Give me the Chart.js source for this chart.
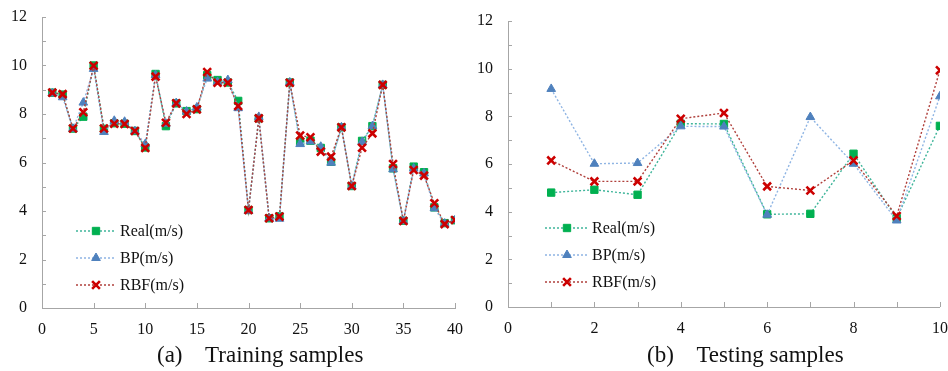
<!DOCTYPE html>
<html>
<head>
<meta charset="utf-8">
<script src="https://cdn.jsdelivr.net/npm/chart.js@4/dist/chart.umd.min.js"></script>
<style>
  body { margin: 0; background: #fff; }
  #wrap { position: relative; width: 948px; height: 371px; overflow: hidden; }
  canvas { position: absolute; top: 0; }
  .cap { position: absolute; top: 343px; font-family: "Liberation Serif", serif; font-size: 23px; line-height: 23px; color: #111; white-space: pre; }
</style>
</head>
<body>
<div id="wrap">
  <canvas id="train" width="474" height="371" style="left:0"></canvas>
  <canvas id="test" width="474" height="371" style="left:474px"></canvas>
  <div class="cap" style="left:157px">(a)    Training samples</div>
  <div class="cap" style="left:647px">(b)    Testing samples</div>
</div>
<script>
// training samples (a)
const trainIdx = [1, 2, 3, 4, 5, 6, 7, 8, 9, 10, 11, 12, 13, 14, 15, 16, 17, 18, 19, 20,
  21, 22, 23, 24, 25, 26, 27, 28, 29, 30, 31, 32, 33, 34, 35, 36, 37, 38, 39, 40];
const trainReal = [8.88, 8.8, 7.4, 7.89, 10.0, 7.39, 7.62, 7.6, 7.3, 6.62, 9.65, 7.5, 8.44, 8.12, 8.2, 9.6, 9.4, 9.3, 8.54, 4.04,
  7.82, 3.7, 3.78, 9.3, 6.86, 6.9, 6.6, 6.03, 7.45, 5.03, 6.89, 7.5, 9.2, 5.76, 3.6, 5.83, 5.6, 4.15, 3.5, 3.62];
const trainBP = [8.85, 8.69, 7.39, 8.47, 9.86, 7.26, 7.72, 7.68, 7.29, 6.76, 9.6, 7.6, 8.45, 8.1, 8.27, 9.46, 9.32, 9.4, 8.24, 4.0,
  7.88, 3.7, 3.68, 9.3, 6.76, 6.87, 6.65, 5.99, 7.45, 5.02, 6.85, 7.5, 9.2, 5.72, 3.58, 5.75, 5.55, 4.11, 3.48, 3.62];
const trainRBF = [8.88, 8.82, 7.4, 8.07, 9.99, 7.4, 7.6, 7.59, 7.3, 6.6, 9.54, 7.64, 8.44, 8.0, 8.19, 9.73, 9.29, 9.29, 8.33, 4.04,
  7.82, 3.7, 3.77, 9.29, 7.11, 7.04, 6.45, 6.24, 7.45, 5.03, 6.61, 7.2, 9.2, 5.94, 3.59, 5.69, 5.46, 4.32, 3.46, 3.63];

// testing samples (b)
const testIdx = [1, 2, 3, 4, 5, 6, 7, 8, 9, 10];
const testReal = [4.8, 4.92, 4.71, 7.69, 7.68, 3.89, 3.91, 6.43, 3.73, 7.6];
const testBP = [9.15, 6.01, 6.04, 7.58, 7.57, 3.87, 7.97, 6.01, 3.63, 8.84];
const testRBF = [6.15, 5.27, 5.27, 7.9, 8.14, 5.06, 4.89, 6.15, 3.82, 9.93];

const seriesNames = ['Real(m/s)', 'BP(m/s)', 'RBF(m/s)'];
const yTicks = [0, 2, 4, 6, 8, 10, 12];

const FONT = 'Liberation Serif';
const AXIS_COLOR = '#a6a6a6';

const styles = [
  { line: '#3fb59a', fill: '#00b050', edge: '#00b050', shape: 'rect', radius: 5.2, bw: 1, order: 2 },
  { line: '#8eb4e3', fill: '#4f81bd', edge: '#4f81bd', shape: 'triangle', radius: 5, bw: 1, order: 1 },
  { line: '#b0403c', fill: '#cc0000', edge: '#cc0000', shape: 'crossRot', radius: 5.5, bw: 2.6, order: 0 }
];

function makeSets(idx, lists) {
  return lists.map((vals, k) => {
    const s = styles[k];
    return {
      label: seriesNames[k],
      data: idx.map((x, i) => ({ x: x, y: vals[i] })),
      borderColor: s.line,
      borderWidth: 1.4,
      borderDash: [2, 2],
      pointStyle: s.shape,
      pointRadius: s.radius,
      pointBackgroundColor: s.fill,
      pointBorderColor: s.edge,
      pointBorderWidth: s.bw,
      order: s.order,
      tension: 0
    };
  });
}

// inward tick marks + legend drawn inside the plot
const decorPlugin = {
  id: 'decor',
  afterDatasetsDraw(chart, args, opts) {
    const ctx = chart.ctx;
    const xs = chart.scales.x, ys = chart.scales.y;
    ctx.save();
    ctx.strokeStyle = AXIS_COLOR;
    ctx.lineWidth = 1;
    ctx.beginPath();
    for (let v = xs.min; v <= xs.max; v += opts.xMinor) {
      const px = Math.round(xs.getPixelForValue(v)) + 0.5;
      ctx.moveTo(px, ys.bottom);
      ctx.lineTo(px, ys.bottom - 5);
    }
    for (let v = ys.min; v <= ys.max; v += 1) {
      const py = Math.round(ys.getPixelForValue(v)) + 0.5;
      ctx.moveTo(xs.left, py);
      ctx.lineTo(xs.left + 4, py);
    }
    ctx.stroke();

    const lg = opts.legend;
    chart.data.datasets.forEach((ds, k) => {
      const y = lg.rows[k];
      ctx.save();
      ctx.strokeStyle = ds.borderColor;
      ctx.lineWidth = 1.4;
      ctx.setLineDash([2, 2]);
      ctx.beginPath();
      ctx.moveTo(lg.x0, y);
      ctx.lineTo(lg.x1, y);
      ctx.stroke();
      ctx.restore();
      ctx.fillStyle = ds.pointBackgroundColor;
      ctx.strokeStyle = ds.pointBorderColor;
      ctx.lineWidth = ds.pointBorderWidth;
      Chart.helpers.drawPoint(ctx, { pointStyle: ds.pointStyle, radius: ds.pointRadius, rotation: 0, borderWidth: ds.pointBorderWidth }, lg.mx, y);
      ctx.fillStyle = '#111';
      ctx.font = '16px "' + FONT + '"';
      ctx.textBaseline = 'middle';
      ctx.textAlign = 'left';
      ctx.fillText(ds.label, lg.tx, y + 1);
    });
    ctx.restore();
  }
};

function makeChart(id, idx, lists, xMax, xStep, xMinor, area, legend) {
  return new Chart(document.getElementById(id), {
    type: 'line',
    data: { datasets: makeSets(idx, lists) },
    plugins: [decorPlugin],
    options: {
      responsive: false,
      animation: false,
      layout: { padding: { top: area.top, right: area.right, left: 0, bottom: 0 } },
      plugins: {
        legend: { display: false },
        tooltip: { enabled: false },
        decor: { xMinor: xMinor, legend: legend }
      },
      scales: {
        x: {
          type: 'linear',
          min: 0,
          max: xMax,
          grid: { display: false, drawTicks: false },
          border: { color: AXIS_COLOR, width: 1 },
          ticks: { stepSize: xStep, padding: 12, color: '#111', font: { family: FONT, size: 16 } },
          afterFit: s => { s.height = area.xh; s.paddingLeft = 0; s.paddingRight = 0; }
        },
        y: {
          min: 0,
          max: 12,
          grid: { display: false, drawTicks: false },
          border: { color: AXIS_COLOR, width: 1 },
          afterBuildTicks: s => { s.ticks = yTicks.map(v => ({ value: v })); },
          ticks: { padding: 15, color: '#111', font: { family: FONT, size: 16 } },
          afterFit: s => { s.width = area.yw; s.paddingTop = 0; s.paddingBottom = 0; }
        }
      }
    }
  });
}

makeChart('train', trainIdx, [trainReal, trainBP, trainRBF], 40, 5, 5,
  { top: 17, right: 19, xh: 63, yw: 42 },
  { x0: 76, x1: 115, mx: 96, tx: 120, rows: [231, 258, 285] });

makeChart('test', testIdx, [testReal, testBP, testRBF], 10, 2, 1,
  { top: 21, right: 8, xh: 64, yw: 34 },
  { x0: 71, x1: 113, mx: 93, tx: 118, rows: [228, 255, 282] });
</script>
</body>
</html>
